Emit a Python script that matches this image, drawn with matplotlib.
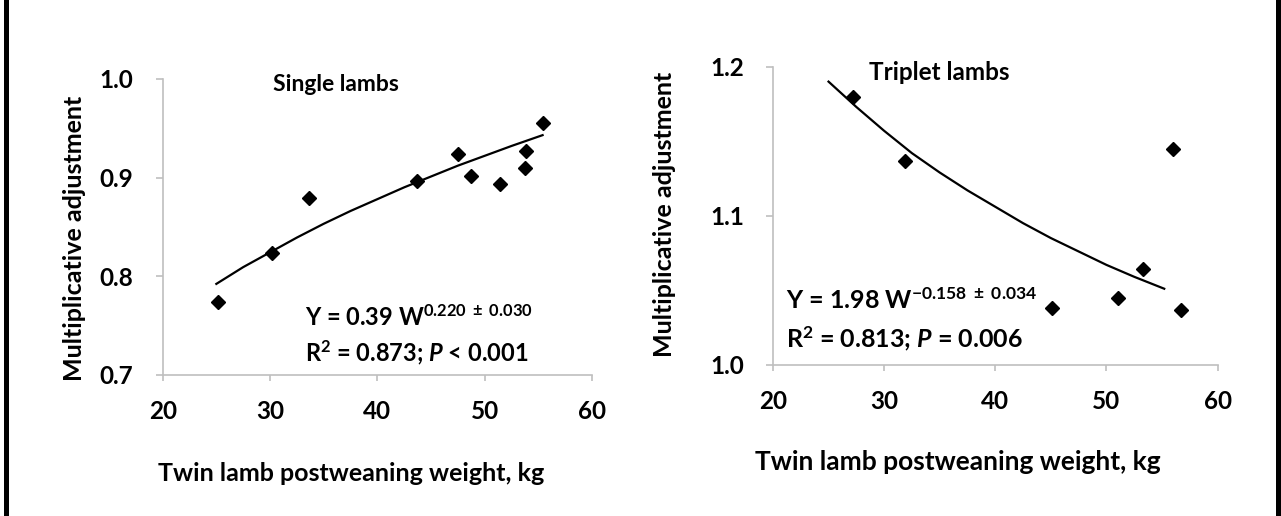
import matplotlib
matplotlib.use('Agg')
import matplotlib.pyplot as plt
from matplotlib.patches import Rectangle

plt.rcParams['font.family'] = ['Lato', 'DejaVu Sans']
plt.rcParams['mathtext.fontset'] = 'custom'
plt.rcParams['mathtext.rm'] = 'Lato:bold'
plt.rcParams['mathtext.it'] = 'Lato:italic:bold'
plt.rcParams['mathtext.default'] = 'regular'

# single lambs
single_w = [25.2, 30.2, 33.6, 43.7, 47.5, 48.7, 51.4, 53.8, 53.9, 55.4]
single_adj = [0.774, 0.823, 0.879, 0.896, 0.924, 0.902, 0.893, 0.910, 0.927, 0.955]
single_fit_w = [25, 27.5, 30, 32.5, 35, 37.5, 40, 42.5, 45, 47.5, 50, 52.5, 55.4]
single_fit = [0.792, 0.809, 0.824, 0.839, 0.853, 0.866, 0.878, 0.890, 0.901,
              0.912, 0.922, 0.932, 0.943]

# triplet lambs
triplet_w = [27.2, 31.9, 45.1, 51.0, 53.3, 56.0, 56.7]
triplet_adj = [1.180, 1.137, 1.038, 1.0445, 1.064, 1.145, 1.037]
triplet_fit_w = [25, 27.5, 30, 32.5, 35, 37.5, 40, 42.5, 45, 47.5, 50, 52.5, 55.2]
triplet_fit = [1.190, 1.173, 1.157, 1.142, 1.129, 1.117, 1.106, 1.095, 1.085,
               1.076, 1.067, 1.059, 1.051]

x_ticks = [20, 30, 40, 50, 60]
single_yticks = [0.7, 0.8, 0.9, 1.0]
triplet_yticks = [1.0, 1.1, 1.2]

XLABEL = 'Twin lamb postweaning weight, kg'
YLABEL = 'Multiplicative adjustment'
AXIS_GREY = '#bfbfbf'

fig = plt.figure(figsize=(12.81, 5.16), dpi=100)
ax1 = fig.add_axes([0.1270, 0.2742, 0.3351, 0.5727])
ax2 = fig.add_axes([0.6034, 0.2932, 0.3471, 0.5775])


def style_axis(ax, yticks, ylim, yfmt):
    ax.set_xlim(20, 60)
    ax.set_ylim(*ylim)
    ax.set_xticks(x_ticks)
    ax.set_yticks(yticks)
    ax.set_yticklabels([yfmt.format(v) for v in yticks])
    for side in ['top', 'right']:
        ax.spines[side].set_visible(False)
    for side in ['left', 'bottom']:
        ax.spines[side].set_color(AXIS_GREY)
        ax.spines[side].set_linewidth(1.2)
    ax.tick_params(axis='x', direction='out', length=4, width=1.2, color=AXIS_GREY,
                   pad=14, labelsize=17.5)
    ax.tick_params(axis='y', direction='out', length=5, width=1.2, color=AXIS_GREY,
                   pad=16, labelsize=17.5)
    for lab in ax.get_xticklabels() + ax.get_yticklabels():
        lab.set_fontweight('bold')


# left panel
ax1.plot(single_fit_w, single_fit, color='black', lw=1.6, clip_on=False)
ax1.plot(single_w, single_adj, 'D', color='black', ms=7, clip_on=False)
style_axis(ax1, single_yticks, (0.7, 1.0), '{:.1f}')
ax1.text(36.1, 0.994, 'Single lambs', fontsize=16.5, fontweight='bold',
         ha='center', va='center')
ax1.text(33.3, 0.758, r'Y = 0.39 W$^{0.220\ \pm\ 0.030}$', fontsize=17,
         fontweight='bold', ha='left', va='center')
ax1.text(33.3, 0.722, r'R$^{2}$ = 0.873; $\mathit{P}$ < 0.001', fontsize=17,
         fontweight='bold', ha='left', va='center')
ax1.set_xlabel(XLABEL, fontsize=18, fontweight='bold')
ax1.set_ylabel(YLABEL, fontsize=18, fontweight='bold')
ax1.xaxis.set_label_coords(0.4386, -0.296)
ax1.yaxis.set_label_coords(-0.178, 0.462)

# right panel
ax2.plot(triplet_fit_w, triplet_fit, color='black', lw=1.6, clip_on=False)
ax2.plot(triplet_w, triplet_adj, 'D', color='black', ms=7, clip_on=False)
style_axis(ax2, triplet_yticks, (1.0, 1.2), '{:.1f}')
ax2.text(35.0, 1.196, 'Triplet lambs', fontsize=17.5, fontweight='bold',
         ha='center', va='center')
ax2.text(21.2, 1.043, r'Y = 1.98 W$^{-0.158\ \pm\ 0.034}$', fontsize=18,
         fontweight='bold', ha='left', va='center')
ax2.text(21.2, 1.0175, r'R$^{2}$ = 0.813; $\mathit{P}$ = 0.006', fontsize=18,
         fontweight='bold', ha='left', va='center')
ax2.set_xlabel(XLABEL, fontsize=19, fontweight='bold')
ax2.set_ylabel(YLABEL, fontsize=18, fontweight='bold')
ax2.xaxis.set_label_coords(0.416, -0.286)
ax2.yaxis.set_label_coords(-0.2186, 0.506)

# black frame bars at the image edges
fig.add_artist(Rectangle((4 / 1281, 0), 5 / 1281, 1, transform=fig.transFigure,
                         color='black', lw=0))
fig.add_artist(Rectangle((1276 / 1281, 0), 5 / 1281, 1, transform=fig.transFigure,
                         color='black', lw=0))

fig.savefig('out.png', dpi=100)
